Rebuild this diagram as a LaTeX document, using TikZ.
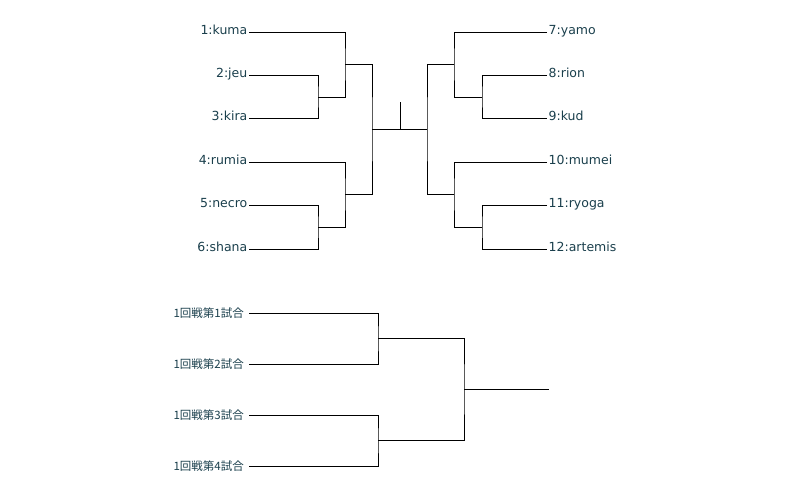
\documentclass[tikz,border=0pt]{standalone}
\usepackage{fontspec}
\setmainfont{DejaVu Sans}
\newfontfamily\jpfont{Noto Sans CJK JP}
\definecolor{labelcol}{HTML}{1A3F4C}
\begin{document}
\begin{tikzpicture}[x=1pt,y=-1pt,
  line/.style={draw=black,line width=1pt},
  lname/.style={anchor=east,inner sep=1.5pt,text height=8pt,text depth=3.5pt,text=labelcol,font=\fontsize{12.5}{14}\selectfont},
  rname/.style={anchor=west,inner sep=1.5pt,text height=8pt,text depth=3.5pt,text=labelcol,font=\fontsize{12.5}{14}\selectfont},
  jname/.style={anchor=east,inner sep=5pt,text height=9pt,text depth=1pt,text=labelcol,font=\jpfont\fontsize{11.5}{14}\selectfont}]
\useasboundingbox (0,0) rectangle (800,498);
% top left labels
\node[lname] (p1) at (249,32.3) {1:kuma};
\node[lname] (p2) at (249,75.7) {2:jeu};
\node[lname] (p3) at (249,118.7) {3:kira};
\node[lname] (p4) at (249,162) {4:rumia};
\node[lname] (p5) at (249,205.7) {5:necro};
\node[lname] (p6) at (249,249) {6:shana};
% top right labels
\node[rname] (p7) at (547,32.3) {7:yamo};
\node[rname] (p8) at (547,75.7) {8:rion};
\node[rname] (p9) at (547,118.7) {9:kud};
\node[rname] (p10) at (547,162) {10:mumei};
\node[rname] (p11) at (547,205.7) {11:ryoga};
\node[rname] (p12) at (547,249) {12:artemis};
% joins
\coordinate (j23) at (318,97);
\coordinate (j1) at (345,64);
\coordinate (j56) at (318,227);
\coordinate (j4) at (345,194);
\coordinate (jL) at (372,129);
\coordinate (jR) at (427,129);
\coordinate (tickT) at (400,102);
\coordinate (tickB) at (400,129);
\coordinate (j89) at (482,97);
\coordinate (j7) at (454,64);
\coordinate (j1112) at (482,227);
\coordinate (j10) at (454,194);
\draw[line] (p2.east) -| (j23) |- (p3.east);
\draw[line] (p1.east) -| (j1) |- (j23);
\draw[line] (p5.east) -| (j56) |- (p6.east);
\draw[line] (p4.east) -| (j4) |- (j56);
\draw[line] (j1) -| (jL) |- (j4);
\draw[line] (jL) -- (jR);
\draw[line] (tickT) -- (tickB);
\draw[line] (p8.west) -| (j89) |- (p9.west);
\draw[line] (p7.west) -| (j7) |- (j89);
\draw[line] (p11.west) -| (j1112) |- (p12.west);
\draw[line] (p10.west) -| (j10) |- (j1112);
\draw[line] (j7) -| (jR) |- (j10);
% bottom bracket
\node[jname] (m1) at (249,313.3) {1回戦第1試合};
\node[jname] (m2) at (249,364.3) {1回戦第2試合};
\node[jname] (m3) at (249,415.3) {1回戦第3試合};
\node[jname] (m4) at (249,466.3) {1回戦第4試合};
\coordinate (b12) at (378,338.3);
\coordinate (b34) at (378,440.3);
\coordinate (bF) at (464,389.3);
\coordinate (bEnd) at (549,389.3);
\draw[line] (m1.east) -| (b12) |- (m2.east);
\draw[line] (m3.east) -| (b34) |- (m4.east);
\draw[line] (b12) -| (bF) |- (b34);
\draw[line] (bF) -- (bEnd);
\end{tikzpicture}
\end{document}
